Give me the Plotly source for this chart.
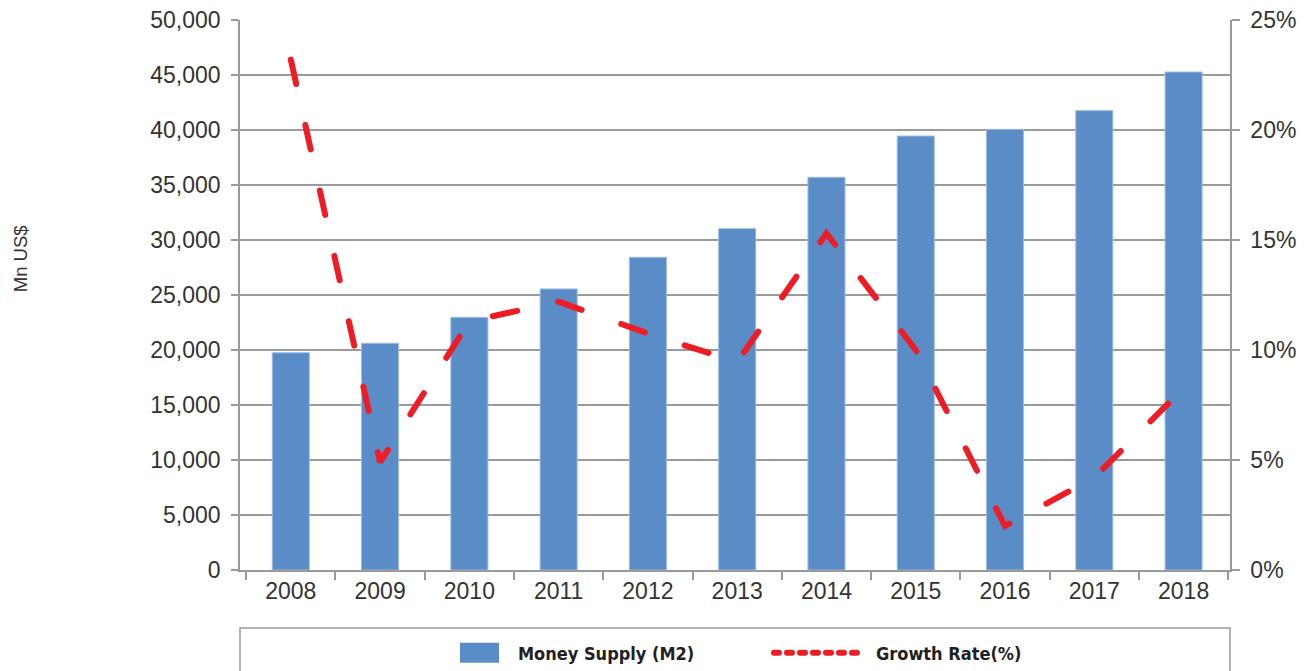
import plotly.graph_objects as go

years = ["2008", "2009", "2010", "2011", "2012", "2013", "2014", "2015", "2016", "2017", "2018"]
money_supply = [19750, 20610, 22970, 25550, 28430, 31030, 35700, 39450, 40060, 41760, 45270]
growth_rate = [23.2, 4.9, 11.3, 12.2, 10.75, 9.45, 15.3, 10.0, 2.0, 4.2, 8.27]

left_ticks = list(range(0, 50001, 5000))
right_ticks = [0, 5, 10, 15, 20, 25]
right_labels = ["0%", "5%", "10%", "15%", "20%", "25%"]

tick_font = dict(family="Liberation Sans, Arial, sans-serif", size=23, color="#333333")
axis_gray = "#9a9a9a"

fig = go.Figure()
fig.add_trace(go.Bar(
    x=years, y=money_supply, name="Money Supply (M2)",
    marker=dict(color="#5A8CC8", line=dict(color="#9DBCE3", width=1)),
    yaxis="y",
))
fig.add_trace(go.Scatter(
    x=years, y=growth_rate, name="Growth Rate(%)", mode="lines",
    line=dict(color="#EE1D25", width=6, dash="25px,42px"),
    yaxis="y2",
))

fig.update_layout(
    width=1305, height=671,
    margin=dict(l=240, r=75, t=20, b=101, autoexpand=False),
    paper_bgcolor="white", plot_bgcolor="white",
    bargap=0.585,
    showlegend=True,
    legend=dict(
        orientation="h", x=0.5313, xanchor="center", y=-0.151, yanchor="middle",
        font=dict(family="Liberation Sans Narrow, DejaVu Sans Condensed, sans-serif", size=18, color="#231F20", weight="bold"),
        itemwidth=100, entrywidth=243, entrywidthmode="pixels",
        bgcolor="rgba(0,0,0,0)",
    ),
    xaxis=dict(
        type="category", showgrid=False, showline=True, linecolor=axis_gray, linewidth=1.5,
        ticks="outside", ticklen=8, tickcolor=axis_gray, tickwidth=1.5, tickson="boundaries",
        tickfont=tick_font, range=[-0.569, 10.52],
    ),
    yaxis=dict(
        range=[0, 50000], tickvals=left_ticks, tickformat=",", showgrid=True,
        gridcolor=axis_gray, gridwidth=1.5, showline=True, linecolor=axis_gray, linewidth=1.5,
        ticks="outside", ticklen=7, tickcolor=axis_gray, tickwidth=1.5,
        tickfont=tick_font, ticklabelstandoff=6, zeroline=False, automargin=False,
    ),
    yaxis2=dict(
        range=[0, 25], tickvals=right_ticks, ticktext=right_labels, overlaying="y", side="right",
        showgrid=False, showline=True, linecolor=axis_gray, linewidth=1.5,
        ticks="outside", ticklen=8, tickcolor=axis_gray, tickwidth=1.5,
        tickfont=tick_font, ticklabelstandoff=6, zeroline=False, automargin=False,
    ),
    annotations=[dict(
        text="Mn US$", xref="paper", yref="paper", x=-0.2222, y=0.565,
        xanchor="center", yanchor="middle", textangle=-90, showarrow=False,
        font=dict(family="Liberation Sans, Arial, sans-serif", size=18.5, color="#333333"),
    )],
    shapes=[dict(
        type="rect", xref="paper", yref="paper", x0=0, x1=1, y0=-0.3, y1=-0.1055,
        line=dict(color=axis_gray, width=1.5), fillcolor="rgba(0,0,0,0)", layer="below",
    )],
)

post = """
document.body.style.margin='0';
var gd = document.getElementById('{plot_id}');
function tweak(){
  gd.querySelectorAll('.scatterlayer .js-line').forEach(function(e){e.style.strokeLinecap='round';});
  var items = gd.querySelectorAll('g.legend g.traces');
  items.forEach(function(it){
    it.querySelectorAll('g.legendpoints path').forEach(function(e){
      e.setAttribute('d','M36,10H-3V-10H36Z'); e.style.strokeWidth='0px';
    });
    it.querySelectorAll('g.legendlines path').forEach(function(e){
      e.setAttribute('d','M8,0h84'); e.style.strokeDasharray='5px,8px'; e.style.strokeLinecap='round';
    });
  });
}
tweak();
gd.on('plotly_afterplot', tweak);
setTimeout(tweak, 50); setTimeout(tweak, 300); setTimeout(tweak, 1000);
"""
fig.write_html("out.html", post_script=post, config={"displayModeBar": False})
